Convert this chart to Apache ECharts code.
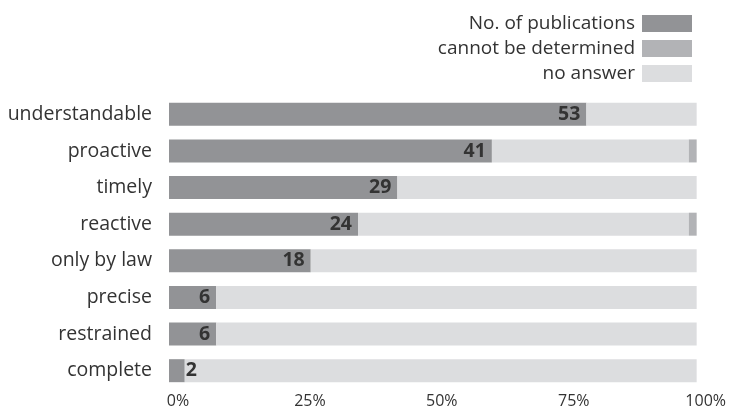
<!DOCTYPE html>
<html><head><meta charset="utf-8">
<script src="https://cdn.jsdelivr.net/npm/echarts@6/dist/echarts.min.js"></script>
<style>html,body{margin:0;padding:0;background:#fff}#c{width:729px;height:410px}</style>
</head><body><div id="c"></div>
<script>
const categories = ['understandable','proactive','timely','reactive','only by law','precise','restrained','complete'];
const publications = [53,41,29,24,18,6,6,2];
const cannotBeDetermined = [0,1,0,1,0,0,0,0];
const noAnswer = [14,25,38,42,49,61,61,65];
const tickLabels = ['0%','25%','50%','75%','100%'];
const total = publications[0] + cannotBeDetermined[0] + noAnswer[0];

const FONT = '"Open Sans", sans-serif';
const chart = echarts.init(document.getElementById('c'), null, {renderer:'canvas'});
chart.setOption({
  animation:false,
  textStyle:{fontFamily:FONT},
  legend:{
    orient:'vertical', right:32, top:9, align:'right',
    itemWidth:50, itemHeight:17, itemGap:6,
    icon:'rect',
    textStyle:{fontSize:19, lineHeight:19, color:'#333', fontFamily:FONT, padding:[0,2,0,0]},
    data:['No. of publications','cannot be determined','no answer']
  },
  grid:{left:169, right:32, top:96, bottom:21, containLabel:false},
  xAxis:{
    type:'value', min:0, max:total, interval:total/4,
    splitLine:{show:false}, axisLine:{show:false}, axisTick:{show:false},
    axisLabel:{
      margin:4, fontSize:16, color:'#333', fontFamily:FONT, padding:[0,0,0,18],
      formatter:function(v){ const i = Math.round(v/total*4); return tickLabels[i]; }
    }
  },
  yAxis:{
    type:'category', data:categories, inverse:true,
    axisLine:{show:false}, axisTick:{show:false},
    axisLabel:{margin:17, fontSize:19.5, color:'#333', fontFamily:FONT}
  },
  series:[
    {name:'No. of publications', type:'bar', stack:'a', barWidth:23,
     itemStyle:{color:'#929396'},
     label:{show:true, position:'insideRight', distance:6, fontSize:19.5, fontWeight:'bold', color:'#333', fontFamily:FONT},
     data:publications.map(function(v){ return v < 4 ? {value:v, label:{position:'right', distance:1}} : v; })},
    {name:'no answer', type:'bar', stack:'a', barWidth:23,
     itemStyle:{color:'#dcdddf'}, data:noAnswer},
    {name:'cannot be determined', type:'bar', stack:'a', barWidth:23,
     itemStyle:{color:'#b2b3b6'}, data:cannotBeDetermined}
  ]
});
</script></body></html>
